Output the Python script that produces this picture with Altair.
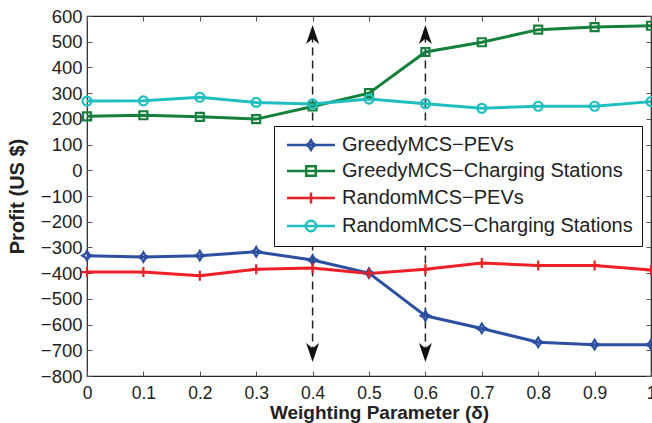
import altair as alt
import pandas as pd

# ---- data ----
delta = [0.0, 0.1, 0.2, 0.3, 0.4, 0.5, 0.6, 0.7, 0.8, 0.9, 1.0]
greedy_pevs = [-332, -337, -332, -317, -349, -400, -566, -615, -669, -678, -678]
greedy_cs = [210, 214, 208, 199, 248, 300, 460, 498, 547, 557, 562]
random_pevs = [-396, -396, -410, -385, -380, -401, -385, -361, -370, -370, -388]
random_cs = [269, 270, 284, 264, 258, 277, 259, 241, 249, 249, 267]

series_names = [
    "GreedyMCS\u2212PEVs",
    "GreedyMCS\u2212Charging Stations",
    "RandomMCS\u2212PEVs",
    "RandomMCS\u2212Charging Stations",
]
series_colors = ["#2c4fa1", "#14803c", "#ee1f26", "#1fbfc0"]

arrow_x = [0.4, 0.6]
arrow_top = [528, 528]
arrow_bottom = [-709, -709]

x_ticks = [0, 0.1, 0.2, 0.3, 0.4, 0.5, 0.6, 0.7, 0.8, 0.9, 1.0]
y_ticks = list(range(-800, 601, 100))

rows = []
for name, vals in zip(series_names, [greedy_pevs, greedy_cs, random_pevs, random_cs]):
    for xv, yv in zip(delta, vals):
        rows.append({"delta": xv, "profit": yv, "series": name})
df = pd.DataFrame(rows)
arrows = pd.DataFrame({"x": arrow_x, "top": arrow_top, "bottom": arrow_bottom})

# marker paths (unit coordinates)
marker_paths = [
    "M0,-0.95 L0.35,-0.35 L0.95,0 L0.35,0.35 L0,0.95 L-0.35,0.35 L-0.95,0 L-0.35,-0.35 Z",
    "M-0.8,-0.8 L0.8,-0.8 L0.8,0.8 L-0.8,0.8 Z",
    "M-1,0 L1,0 M0,-1 L0,1",
    "M0.9,0 A0.9,0.9 0 1,1 -0.9,0 A0.9,0.9 0 1,1 0.9,0",
]
legend_paths = [
    "M-3,0 L3,0 M0,-0.6 L0.22,-0.22 L0.6,0 L0.22,0.22 L0,0.6 L-0.22,0.22 L-0.6,0 L-0.22,-0.22 Z",
    "M-3,0 L3,0 M-0.6,-0.6 L0.6,-0.6 L0.6,0.6 L-0.6,0.6 Z",
    "M-3,0 L3,0 M0,-0.7 L0,0.7",
    "M-3,0 L3,0 M0.65,0 A0.65,0.65 0 1,1 -0.65,0 A0.65,0.65 0 1,1 0.65,0",
]

FONT = "Liberation Sans"
TXT = "#222222"

xscale = alt.Scale(domain=[0, 1], nice=False, zero=False)
yscale = alt.Scale(domain=[-800, 600], nice=False, zero=False)
cscale = alt.Scale(domain=series_names, range=series_colors)

axis_common = dict(domain=False, ticks=True, tickSize=5, tickColor="#555555",
                   tickWidth=1, offset=-5, grid=False,
                   labelFont=FONT, labelColor=TXT,
                   titleFont=FONT, titleColor=TXT, titleFontWeight="bold")

x_bottom = alt.Axis(orient="bottom", values=x_ticks, format=".1~f", labelPadding=8,
                    labelFontSize=17.5,
                    title="Weighting Parameter (\u03b4)", titleX=292, titleY=47.5,
                    titleFontSize=19, titleBaseline="alphabetic", labelFlush=False,
                    **axis_common)
y_left = alt.Axis(orient="left", values=y_ticks, labelPadding=5, labelFontSize=18.5,
                  title="Profit (US $)", titlePadding=13, titleFontSize=20, **axis_common)
x_top = alt.Axis(orient="top", values=x_ticks, labels=False, title=None, **axis_common)
y_right = alt.Axis(orient="right", values=y_ticks, labels=False, title=None, **axis_common)

base = alt.Chart(df)

lines = base.mark_line(strokeWidth=3).encode(
    x=alt.X("delta:Q", scale=xscale, axis=x_bottom),
    y=alt.Y("profit:Q", scale=yscale, axis=y_left),
    color=alt.Color("series:N", scale=cscale, legend=None),
    detail="series:N",
)

points = base.mark_point(filled=False, strokeWidth=2.2, opacity=1).encode(
    x=alt.X("delta:Q", scale=xscale, axis=x_top),
    y=alt.Y("profit:Q", scale=yscale, axis=y_right),
    color=alt.Color("series:N", scale=cscale, legend=None),
    shape=alt.Shape("series:N", scale=alt.Scale(domain=series_names, range=marker_paths), legend=None),
    size=alt.value(100),
)

legend_layer = base.transform_filter("datum.delta > 5").mark_point(
    filled=False, strokeWidth=2.5, opacity=1
).encode(
    x=alt.X("delta:Q", scale=xscale, axis=None),
    y=alt.Y("profit:Q", scale=yscale, axis=None),
    color=alt.Color("series:N", scale=cscale, legend=alt.Legend(
        orient="none", legendX=187, legendY=110, title=None,
        labelFont=FONT, labelFontSize=20, labelColor=TXT, labelOffset=21,
        symbolSize=256, symbolStrokeWidth=2.5, symbolOffset=18, symbolOpacity=1,
        rowPadding=6, padding=9, strokeColor="#111111", fillColor="white",
        labelLimit=400,
    )),
    shape=alt.Shape("series:N", scale=alt.Scale(domain=series_names, range=legend_paths)),
)

rules = alt.Chart(arrows).mark_rule(strokeDash=[8, 5], strokeWidth=1.5, color="#222222").encode(
    x=alt.X("x:Q", scale=xscale, axis=None),
    y=alt.Y("top:Q", scale=yscale, axis=None),
    y2="bottom:Q",
)

head_up = alt.Chart(arrows).mark_point(
    shape="M0,-1 L0.68,1 L0,0.45 L-0.68,1 Z", filled=True, color="#111111", size=361, opacity=1
).encode(
    x=alt.X("x:Q", scale=xscale, axis=None),
    y=alt.Y("top:Q", scale=yscale, axis=None),
)
head_down = alt.Chart(arrows).mark_point(
    shape="M0,1 L0.68,-1 L0,-0.45 L-0.68,-1 Z", filled=True, color="#111111", size=361, opacity=1
).encode(
    x=alt.X("x:Q", scale=xscale, axis=None),
    y=alt.Y("bottom:Q", scale=yscale, axis=None),
)

chart = alt.layer(rules, head_up, head_down, lines, points, legend_layer).resolve_scale(
    color="independent", shape="independent"
).resolve_axis(x="independent", y="independent").properties(
    width=564, height=360,
    autosize=alt.AutoSizeParams(type="none"),
    padding={"left": 87, "top": 16, "right": 1, "bottom": 47},
    background="white",
).configure_view(stroke="#222222", strokeWidth=1.2)

chart.save("out.html", embed_options={"renderer": "svg", "actions": False})
